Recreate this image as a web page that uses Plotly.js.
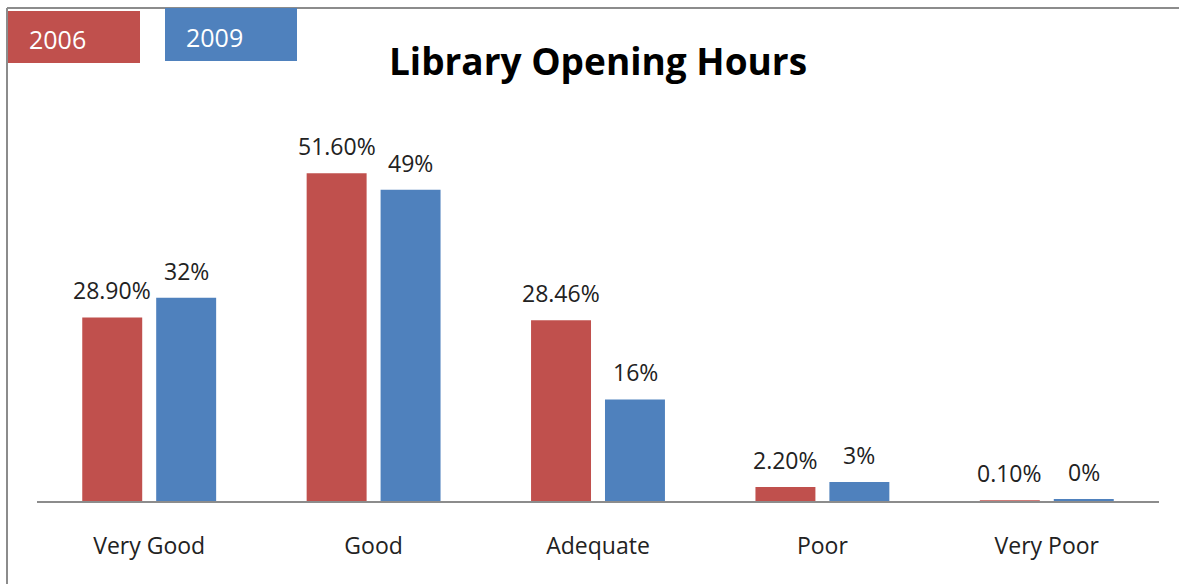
<!DOCTYPE html>
<html>
<head>
<meta charset="utf-8">
<script src="https://cdn.plot.ly/plotly-3.0.1.min.js"></script>
<style>html,body{margin:0;padding:0;background:#fff;}#chart{width:1179px;height:584px;}</style>
</head>
<body>
<div id="chart"></div>
<script>
const categories = ["Very Good", "Good", "Adequate", "Poor", "Very Poor"];
const series2006 = [28.9, 51.6, 28.46, 2.2, 0.1];
const series2009 = [32, 49, 16, 3, 0.3];
const labels2006 = ["28.90%", "51.60%", "28.46%", "2.20%", "0.10%"];
const labels2009 = ["32%", "49%", "16%", "3%", "0%"];
const seriesNames = ["2006", "2009"];
const colors = ["#C0504D", "#4F81BD"];

const W = 1179, H = 584;
const M = {l: 37, r: 20, t: 120, b: 83};
const pw = W - M.l - M.r, ph = H - M.t - M.b;
const px = x => (x - M.l) / pw;
const py = y => (H - M.b - y) / ph;

const FONT = "Open Sans, Noto Sans, sans-serif";

const traces = [series2006, series2009].map((vals, i) => ({
  type: "bar",
  x: categories,
  y: vals,
  name: seriesNames[i],
  marker: {color: colors[i]},
  hoverinfo: "none"
}));

const annotations = [];
[labels2006, labels2009].forEach((labs, i) => {
  const vals = i === 0 ? series2006 : series2009;
  labs.forEach((t, j) => {
    annotations.push({
      x: categories[j], y: vals[j], xref: "x", yref: "y",
      text: t, showarrow: false,
      xshift: i === 0 ? -37 : 37, yshift: 27,
      yanchor: "middle", xanchor: "center",
      font: {family: FONT, size: 23, color: "#222"}
    });
  });
});

// legend boxes
const legendBoxes = [
  {x0: 8, x1: 140, y0: 11, y1: 63, tx: 27, ty: 39},
  {x0: 165, x1: 297, y0: 8, y1: 61, tx: 184, ty: 37}
];
const shapes = [
  {type: "line", xref: "paper", yref: "paper", x0: px(7), x1: px(1179), y0: py(8), y1: py(8), line: {color: "#8c8c8c", width: 2}},
  {type: "line", xref: "paper", yref: "paper", x0: px(7), x1: px(7), y0: py(8), y1: py(584), line: {color: "#8c8c8c", width: 2}}
];
legendBoxes.forEach((b, i) => {
  shapes.push({type: "rect", xref: "paper", yref: "paper", x0: px(b.x0), x1: px(b.x1), y0: py(b.y1), y1: py(b.y0),
    fillcolor: colors[i], line: {width: 0}, layer: "above"});
  annotations.push({xref: "paper", yref: "paper", x: px(b.tx), y: py(b.ty), xanchor: "left", yanchor: "middle",
    text: seriesNames[i], showarrow: false, font: {family: FONT, size: 25, color: "#ffffff"}});
});

const layout = {
  width: W, height: H,
  margin: M,
  paper_bgcolor: "#ffffff", plot_bgcolor: "#ffffff",
  showlegend: false,
  barmode: "group",
  bargap: 0.341,
  bargroupgap: 0.189,
  title: {text: "<b>Library Opening Hours</b>", font: {family: FONT, size: 37, color: "#000"},
    xref: "paper", x: 0.5, xanchor: "center", yref: "container", y: 1 - 62 / H, yanchor: "middle"},
  xaxis: {type: "category", range: [-0.5, 4.5], showline: true, linecolor: "#8c8c8c", linewidth: 1.5,
    ticks: "", showgrid: false, zeroline: false, ticklabelstandoff: 24,
    tickfont: {family: FONT, size: 23, color: "#222"}},
  yaxis: {range: [0, 60], visible: false, showgrid: false, zeroline: false},
  shapes: shapes,
  annotations: annotations
};

Plotly.newPlot("chart", traces, layout, {displayModeBar: false, staticPlot: true});
</script>
</body>
</html>
